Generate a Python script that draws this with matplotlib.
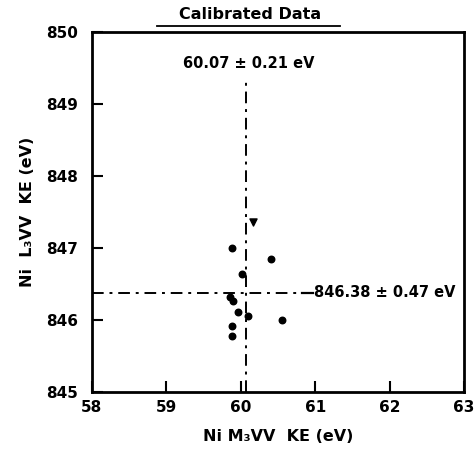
import matplotlib
matplotlib.use("Agg")
import matplotlib.pyplot as plt
from matplotlib.lines import Line2D

# Data
m3vv_ke = [60.16, 59.88, 60.41, 60.02, 59.85, 59.89, 59.96, 60.10, 60.55, 59.88, 59.88]
l3vv_ke = [847.36, 847.00, 846.85, 846.64, 846.32, 846.26, 846.11, 846.05, 846.00, 845.92, 845.77]
mean_x, err_x = 60.07, 0.21
mean_y, err_y = 846.38, 0.47
x_ticks = [58, 59, 60, 61, 62, 63]
y_ticks = [845, 846, 847, 848, 849, 850]

plt.rcParams['font.family'] = ['DejaVu Sans']
fig = plt.figure(figsize=(4.76, 4.51), dpi=100)
ax = fig.add_axes([0.193, 0.131, 0.782, 0.798])

ax.scatter(m3vv_ke[1:], l3vv_ke[1:], s=22, color='black', zorder=3)
ax.scatter(m3vv_ke[:1], l3vv_ke[:1], s=26, marker='v', color='black', zorder=3)

dd = (0, (6, 3, 1.5, 3))
ax.plot([mean_x, mean_x], [845, 849.3], color='black', lw=1.4, linestyle=dd)
ax.plot([58, 60.8], [mean_y, mean_y], color='black', lw=1.4, linestyle=dd)
ax.plot([60.82, 60.97], [mean_y, mean_y], color='black', lw=1.6)

ax.text(mean_x + 0.04, 849.56, f"{mean_x:.2f} ± {err_x:.2f} eV", ha='center', va='center',
        fontsize=10.5, fontweight='bold')
ax.text(60.98, mean_y, f"{mean_y:.2f} ± {err_y:.2f} eV", ha='left', va='center',
        fontsize=10.5, fontweight='bold')

ax.set_xlim(58, 63)
ax.set_ylim(845, 850)
ax.set_xticks(x_ticks)
ax.set_yticks(y_ticks)
ax.set_xticklabels([str(t) for t in x_ticks], fontsize=11, fontweight='bold')
ax.set_yticklabels([str(t) for t in y_ticks], fontsize=11, fontweight='bold')
ax.tick_params(direction='in', length=8, width=1.5)
ax.tick_params(axis='y', pad=10)
ax.tick_params(axis='x', pad=6)
for s in ax.spines.values():
    s.set_linewidth(2)

ax.set_xlabel("Ni M₃VV  KE (eV)", fontsize=11.5, fontweight='bold', labelpad=10)
ax.set_ylabel("Ni  L₃VV  KE (eV)", fontsize=11.5, fontweight='bold', labelpad=8)

fig.text(0.525, 0.967, "Calibrated Data", ha='center', va='center',
         fontsize=11.5, fontweight='bold')
fig.add_artist(Line2D([0.33, 0.715], [0.942, 0.942], color='black', lw=1.3,
                      transform=fig.transFigure))

fig.savefig("out.png", dpi=100)
